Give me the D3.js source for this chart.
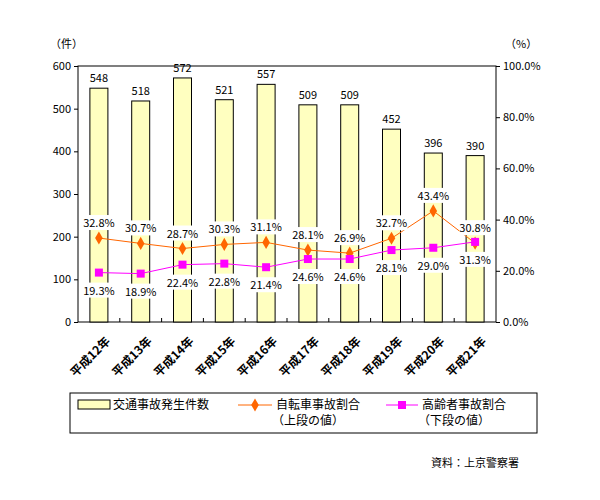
<!DOCTYPE html>
<html><head><meta charset="utf-8">
<script src="https://cdn.jsdelivr.net/npm/d3@7"></script>
<style>body{margin:0;background:#fff}text{font-family:"Noto Sans CJK JP",sans-serif}</style>
</head><body><div id="container"></div>
<script>
var years = ["平成12年","平成13年","平成14年","平成15年","平成16年","平成17年","平成18年","平成19年","平成20年","平成21年"];
var accidents = [548,518,572,521,557,509,509,452,396,390];
var bicycle = [32.8,30.7,28.7,30.3,31.1,28.1,26.9,32.7,43.4,30.8];
var elderly = [19.3,18.9,22.4,22.8,21.4,24.6,24.6,28.1,29.0,31.3];
var leftTicks = [0,100,200,300,400,500,600];
var rightTicks = [0,20,40,60,80,100];

var svg = d3.select("#container").append("svg").attr("width",600).attr("height",500);
var pLeft = 78, pRight = 496, pTop = 66, pBottom = 322;

var x = d3.scaleBand().domain(years).range([pLeft,pRight]);
var y = d3.scaleLinear().domain([0,600]).range([pBottom,pTop]);
var y2 = d3.scaleLinear().domain([0,100]).range([pBottom,pTop]);

svg.append("rect").attr("x",pLeft).attr("y",pTop).attr("width",pRight-pLeft).attr("height",pBottom-pTop)
  .attr("fill","none").attr("stroke","#000");

var fs = 11;
svg.append("g").attr("transform","translate("+pLeft+",0)")
  .call(d3.axisLeft(y).tickValues(leftTicks).tickSize(4).tickSizeOuter(0))
  .call(g=>g.select(".domain").remove())
  .selectAll("text").attr("font-size",fs);
svg.append("g").attr("transform","translate("+pRight+",0)")
  .call(d3.axisRight(y2).tickValues(rightTicks).tickSize(4).tickSizeOuter(0).tickFormat(d=>d.toFixed(1)+"%"))
  .call(g=>g.select(".domain").remove())
  .selectAll("text").attr("font-size",fs);
svg.selectAll(".tick line").attr("stroke","#000");
svg.append("g").selectAll("line").data(years.slice(1)).enter().append("line")
  .attr("x1",d=>x(d)).attr("x2",d=>x(d)).attr("y1",pBottom).attr("y2",pBottom-4).attr("stroke","#000");

svg.append("text").attr("x",50).attr("y",48).attr("font-size",fs).text("（件）");
svg.append("text").attr("x",505).attr("y",48).attr("font-size",fs).text("（%）");

var bw = 18;
svg.append("g").selectAll("rect").data(accidents).enter().append("rect")
  .attr("x",(d,i)=>x(years[i])+x.bandwidth()/2-bw/2).attr("y",d=>y(d))
  .attr("width",bw).attr("height",d=>pBottom-y(d))
  .attr("fill","#ffffc0").attr("stroke","#000");
svg.append("g").selectAll("text").data(accidents).enter().append("text")
  .attr("x",(d,i)=>x(years[i])+x.bandwidth()/2).attr("y",d=>y(d)-6)
  .attr("text-anchor","middle").attr("font-size",fs).text(d=>d);

var cx = (d,i)=>x(years[i])+x.bandwidth()/2;
var line = d3.line().x(cx).y(d=>y2(d));
svg.append("path").datum(bicycle).attr("d",line).attr("fill","none").attr("stroke","#ff6600");
svg.append("path").datum(elderly).attr("d",line).attr("fill","none").attr("stroke","#ff00ff");

function labels(data,dy){
  var g = svg.append("g").selectAll("g").data(data).enter().append("g")
    .attr("transform",(d,i)=>"translate("+cx(d,i)+","+(y2(d)+dy)+")");
  g.append("rect").attr("x",-16).attr("y",-8).attr("width",32).attr("height",15).attr("fill","#fff");
  g.append("text").attr("text-anchor","middle").attr("y",4).attr("font-size",fs).text(d=>d.toFixed(1)+"%");
}
labels(bicycle,-15);
labels(elderly,18);

svg.append("g").selectAll("path").data(bicycle).enter().append("path")
  .attr("transform",(d,i)=>"translate("+cx(d,i)+","+y2(d)+")")
  .attr("d",d3.symbol(d3.symbolDiamond,50)).attr("fill","#ff6600");
svg.append("g").selectAll("rect").data(elderly).enter().append("rect")
  .attr("x",(d,i)=>cx(d,i)-4).attr("y",d=>y2(d)-4).attr("width",8).attr("height",8).attr("fill","#ff00ff");

svg.append("g").selectAll("text").data(years).enter().append("text")
  .attr("transform",d=>"translate("+(x(d)+x.bandwidth()/2+12)+","+(pBottom+20)+") rotate(-45)")
  .attr("text-anchor","end").attr("font-size",12).attr("font-weight","bold").text(d=>d);

var lg = svg.append("g");
lg.append("rect").attr("x",70).attr("y",393).attr("width",467).attr("height",40).attr("fill","#fff").attr("stroke","#000");
lg.append("rect").attr("x",78).attr("y",400).attr("width",32).attr("height",9).attr("fill","#ffffc0").attr("stroke","#000");
lg.append("text").attr("x",113).attr("y",409).attr("font-size",12).text("交通事故発生件数");
lg.append("line").attr("x1",238).attr("x2",272).attr("y1",405).attr("y2",405).attr("stroke","#ff6600");
lg.append("path").attr("transform","translate(255,405)").attr("d",d3.symbol(d3.symbolDiamond,50)).attr("fill","#ff6600");
lg.append("text").attr("x",276).attr("y",409).attr("font-size",12).text("自転車事故割合");
lg.append("text").attr("x",272).attr("y",425).attr("font-size",12).text("（上段の値）");
lg.append("line").attr("x1",386).attr("x2",418).attr("y1",405).attr("y2",405).attr("stroke","#ff00ff");
lg.append("rect").attr("x",398).attr("y",401).attr("width",8).attr("height",8).attr("fill","#ff00ff");
lg.append("text").attr("x",422).attr("y",409).attr("font-size",12).text("高齢者事故割合");
lg.append("text").attr("x",418).attr("y",425).attr("font-size",12).text("（下段の値）");

svg.append("text").attr("x",519).attr("y",467).attr("text-anchor","end").attr("font-size",11).text("資料：上京警察署");
</script></body></html>
